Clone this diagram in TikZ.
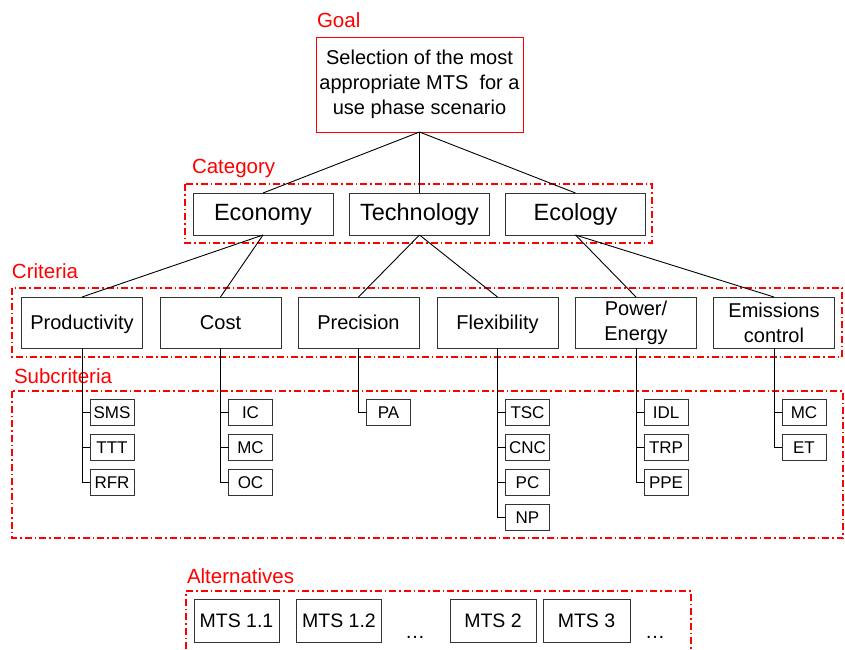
\documentclass[tikz,border=0pt]{standalone}
\usepackage{fontspec}
\setmainfont{Liberation Sans}
\usepackage{tikz}
\colorlet{groupLine}{red}
\colorlet{boxLine}{black!80}
\begin{document}
\begin{tikzpicture}[
  x=1pt,
  y=-1pt,
  every node/.style={
    inner sep=0pt,
    outer sep=0pt,
  },
  group/.style={
    draw=groupLine,
    line width=1.1pt,
    dash pattern=on 7pt off 3pt on 1.5pt off 3pt,
  },
  group label/.style={
    anchor=west,
    text=groupLine,
    font=\fontsize{20.5}{24}\selectfont,
  },
  oneline/.style={
    text height=0.716*#1pt,
    text depth=0pt,
  },
  critline/.style={
    oneline=20,
  },
  goalbox/.style={
    draw=groupLine,
    line width=1pt,
    minimum width=207pt,
    minimum height=95pt,
    align=center,
    font=\fontsize{20}{25}\selectfont,
  },
  catbox/.style={
    draw=boxLine,
    line width=1pt,
    minimum width=140pt,
    minimum height=42pt,
    text height=17pt,
    text depth=4.7pt,
    font=\fontsize{23.5}{26}\selectfont,
  },
  critbox/.style={
    draw=boxLine,
    line width=1pt,
    minimum width=121pt,
    minimum height=51pt,
    align=center,
    font=\fontsize{20}{25}\selectfont,
  },
  subbox/.style={
    draw=boxLine,
    line width=1pt,
    minimum width=44pt,
    minimum height=26pt,
    anchor=west,
    oneline=17,
    font=\fontsize{17}{20}\selectfont,
  },
  altbox/.style={
    draw=boxLine,
    line width=1pt,
    minimum height=43pt,
    oneline=19.5,
    font=\fontsize{19.5}{22}\selectfont,
  },
  link/.style={
    draw=black,
    line width=0.9pt,
  }
]
\useasboundingbox (0,0) rectangle (845,649);

\draw[group] (185,184) rectangle (652,243);
\draw[group] (12,288) rectangle (842,357);
\draw[group] (12,391) rectangle (843,538);
\draw[group] (186,649) -- (186,591) -- (691,591) -- (691,649);

\node[group label] (goalLabel) at (317,20) {Goal};
\node[group label] (catLabel) at (192,168) {Category};
\node[group label] (critLabel) at (12,271) {Criteria};
\node[group label] (subLabel) at (14,376) {Subcriteria};
\node[group label] (altLabel) at (187,576) {Alternatives};

\node[goalbox] (goal) at (419.5,84.5) {Selection of the most\\appropriate MTS\ \ for a\\use phase scenario};

\foreach \n/\x/\t in {eco/263/Economy,tech/419.5/Technology,ecol/575.5/Ecology} {
  \node[catbox] (\n) at (\x,214) {\t};
  \draw[link] (goal.south) -- (\n.north);
}

\foreach \n/\x/\c/\t/\s in {prod/82/eco/Productivity/critline,cost/220.5/eco/Cost/critline,
    prec/358.5/tech/Precision/critline,flex/497.5/tech/Flexibility/critline,
    pow/636/ecol/{Power/\\Energy}/{},emis/774/ecol/{Emissions\\control}/{}} {
  \node[critbox,\s] (\n) at (\x,322.5) {\t};
  \draw[link] (\c.south) -- (\n.north);
}

\foreach \p/\list in {prod/{SMS,TTT,RFR},cost/{IC,MC,OC},prec/{PA},
    flex/{TSC,CNC,PC,NP},pow/{IDL,TRP,PPE},emis/{MC,ET}} {
  \foreach \t [count=\i] in \list {
    \path (\p.south) ++(8,{29+35*\i}) node[subbox] (\p\i) {\t};
    \draw[link] (\p.south) |- (\p\i.west);
  }
}

\foreach \n/\x/\w/\t in {alt1/236.5/85/MTS 1.1,alt2/339/85/MTS 1.2,
    alt3/493/86/MTS 2,alt4/586.5/87/MTS 3} {
  \node[altbox,minimum width=\w pt] (\n) at (\x,620.5) {\t};
}
\node[font=\fontsize{20}{22}\selectfont] (dots1) at (415,637) {\dots};
\node[font=\fontsize{20}{22}\selectfont] (dots2) at (655,637) {\dots};
\end{tikzpicture}
\end{document}
